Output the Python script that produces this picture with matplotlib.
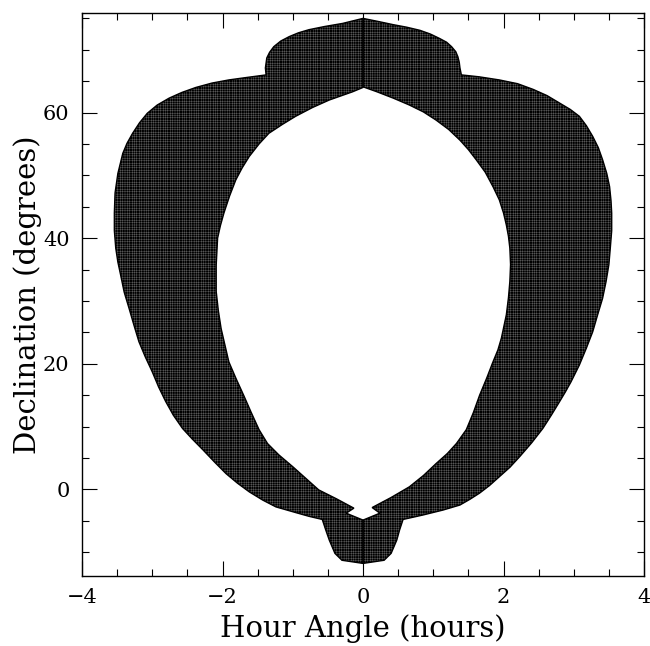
import matplotlib
matplotlib.use('Agg')
import matplotlib.pyplot as plt
from matplotlib.ticker import MultipleLocator

#outline of the region (hour angle in hours, declination in degrees)
#right half: outer edge from the top down, then inner edge from the bottom up
right_outer_ha = [0, 0.22, 0.43, 0.62, 0.81, 0.96, 1.09, 1.19, 1.26, 1.32, 1.35, 1.37, 1.38, 1.40,
                  1.65, 1.94, 2.20, 2.42, 2.62, 2.80, 2.95, 3.08, 3.18, 3.27, 3.35, 3.41, 3.47, 3.51, 3.53, 3.54,
                  3.54, 3.52, 3.50, 3.46, 3.41, 3.34, 3.27, 3.18, 3.08, 2.96, 2.88, 2.80, 2.68, 2.56,
                  2.40, 2.23, 2.09, 1.94, 1.80, 1.66, 1.52, 1.38, 1.26, 1.14, 0.85, 0.57,
                  0.52, 0.48, 0.40, 0.30, 0]
right_outer_dec = [75.0, 74.5, 74.0, 73.6, 73.1, 72.5, 71.8, 71.2, 70.5, 69.7, 68.9, 68.0, 67.1, 66.0,
                   65.7, 65.2, 64.6, 63.7, 62.7, 61.5, 60.5, 59.4, 57.9, 56.2, 54.4, 52.5, 50.3, 48.2, 46.0, 44.0,
                   41.2, 38.4, 35.8, 33.1, 30.4, 27.8, 25.1, 22.5, 19.8, 17.1, 15.5, 14.0, 11.8, 9.7,
                   7.4, 5.2, 3.5, 2.0, 0.6, -0.6, -1.6, -2.5, -2.9, -3.3, -4.1, -4.8,
                   -6.5, -8.1, -10.2, -11.3, -11.8]
right_inner_ha = [0, 0.24, 0.13, 0.40, 0.66, 0.86, 1.04, 1.20, 1.33, 1.47, 1.57, 1.66, 1.76, 1.85, 1.92,
                  1.97, 2.04, 2.07, 2.09, 2.10, 2.09, 2.07, 2.04, 2.00, 1.94, 1.85, 1.74, 1.61, 1.50,
                  1.38, 1.22, 1.04, 0.86, 0.66, 0.43, 0.20, 0]
right_inner_dec = [-4.9, -3.8, -2.9, -1.3, 0.4, 2.2, 4.1, 5.7, 7.3, 9.5, 12.2, 15.0, 17.7, 20.3, 22.2,
                   24.1, 27.8, 30.5, 33.1, 35.8, 38.4, 40.3, 42.1, 44.0, 46.1, 48.2, 50.5, 52.5, 54.1,
                   55.6, 57.3, 58.8, 60.1, 61.2, 62.3, 63.3, 64.1]

#left half, same order
left_outer_ha = [0, -0.29, -0.55, -0.77, -0.92, -1.05, -1.17, -1.27, -1.33, -1.37, -1.39, -1.38,
                 -1.65, -1.91, -2.15, -2.38, -2.58, -2.76, -2.93, -3.07, -3.18, -3.28, -3.36, -3.42,
                 -3.49, -3.53, -3.54, -3.54, -3.52, -3.49, -3.45, -3.40, -3.33, -3.26, -3.19, -3.10,
                 -3.00, -2.91, -2.81, -2.70, -2.57, -2.43, -2.28, -2.11, -1.95, -1.79, -1.62, -1.43,
                 -1.24, -0.96, -0.77, -0.58, -0.53, -0.48, -0.40, -0.30, 0]
left_outer_dec = [75.0, 74.2, 73.7, 73.2, 72.7, 72.1, 71.4, 70.5, 69.6, 68.7, 67.1, 66.0,
                  65.6, 65.2, 64.7, 64.0, 63.2, 62.3, 61.2, 59.9, 58.4, 56.7, 55.1, 53.5,
                  50.3, 47.2, 44.0, 41.2, 38.4, 36.2, 34.1, 31.4, 28.8, 26.1, 23.5, 21.1,
                  18.7, 16.3, 14.0, 11.8, 9.7, 8.0, 6.3, 4.3, 2.5, 1.0, -0.4, -1.7,
                  -2.8, -3.7, -4.3, -4.8, -6.5, -8.1, -10.2, -11.3, -11.8]
left_inner_ha = [0, -0.24, -0.13, -0.38, -0.63, -0.82, -1.00, -1.20, -1.36, -1.48, -1.59, -1.70, -1.81,
                 -1.91, -2.02, -2.06, -2.09, -2.09, -2.07, -2.03, -1.98, -1.90, -1.81, -1.72, -1.62,
                 -1.48, -1.34, -1.15, -0.96, -0.72, -0.48, -0.15, 0]
left_inner_dec = [-4.9, -3.8, -3.0, -1.5, -0.1, 1.8, 3.6, 5.5, 7.3, 9.5, 12.2, 15.0, 17.7,
                  20.3, 25.6, 28.5, 31.5, 35.7, 40.0, 42.0, 44.0, 46.7, 49.3, 51.2, 53.0,
                  55.0, 56.7, 58.1, 59.4, 60.8, 62.0, 63.3, 64.0]

plt.rcParams['font.family'] = 'DejaVu Serif'
plt.rcParams['hatch.linewidth'] = 0.12

fig = plt.figure(figsize=(6.5, 6.46), dpi=100)
ax = fig.add_axes([0.1262, 0.1084, 0.8646, 0.8719])

for outer_ha, outer_dec, inner_ha, inner_dec in [(right_outer_ha, right_outer_dec, right_inner_ha, right_inner_dec),
                                                 (left_outer_ha, left_outer_dec, left_inner_ha, left_inner_dec)]:
    xs = outer_ha + inner_ha
    ys = outer_dec + inner_dec
    #dark fill with a fine white grid on top, then the black outline
    ax.fill(xs, ys, facecolor='black', edgecolor='white', hatch='+' * 7, linewidth=0)
    ax.fill(xs, ys, facecolor='none', edgecolor='black', linewidth=1.0)

ax.set_xlim(-4, 4)
ax.set_ylim(-13.8, 75.9)

ax.xaxis.set_major_locator(MultipleLocator(2))
ax.xaxis.set_minor_locator(MultipleLocator(0.5))
ax.yaxis.set_major_locator(MultipleLocator(20))
ax.yaxis.set_minor_locator(MultipleLocator(5))
ax.tick_params(which='both', direction='in', top=True, right=True, width=0.8, labelsize=15, pad=9)
ax.tick_params(which='major', length=10.5)
ax.tick_params(which='minor', length=5.2)
for side in ax.spines.values():
    side.set_linewidth(1.0)

ax.set_xlabel('Hour Angle (hours)', fontsize=21)
ax.set_ylabel('Declination (degrees)', fontsize=21)
ax.xaxis.set_label_coords(0.5, -0.067)
ax.yaxis.set_label_coords(-0.072, 0.5)

fig.savefig('out.png', dpi=100)
